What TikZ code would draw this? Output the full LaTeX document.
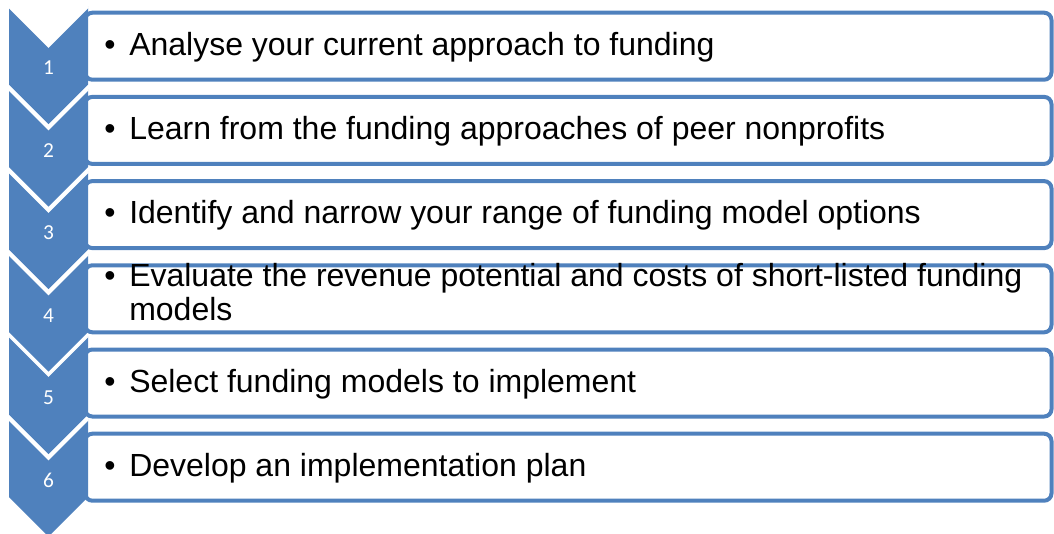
\documentclass[tikz,border=0pt]{standalone}
\usepackage{fontspec}
\setmainfont{Liberation Sans}
\newfontfamily\numfont{Carlito}
\definecolor{accentblue}{HTML}{4F81BD}

\begin{document}
\begin{tikzpicture}[x=0.75pt,y=-0.75pt,
  chevron/.style={fill=accentblue},
  chevronedge/.style={draw=white,line join=miter},
  stepbox/.style={draw=accentblue,fill=white,line width=3pt,rounded corners=5.5pt,
    rectangle,inner sep=0pt,minimum width=724.875pt,minimum height=50.25pt},
  stepnum/.style={text=white,font=\numfont\fontsize{16}{19}\selectfont,anchor=base,inner sep=0pt},
  steptext/.style={font=\fontsize{24}{25}\selectfont,anchor=base west,inner sep=0pt}]
\useasboundingbox (0,0) rectangle (1054,533);

% text boxes, evenly spaced (left edge tucked under the chevrons)
\foreach \k in {1,...,6}{
  \pgfmathsetmacro\cy{46.2+84.2*(\k-1)}
  \node[stepbox] (box\k) at (568.25,\cy) {};
}

% chevrons with a white edge along the notch
\foreach \k/\w in {1/2,2/2,3/2,4/2,5/0.8,6/2}{
  \pgfmathsetmacro\t{6.5+82.5*(\k-1)}
  \fill[chevron] (9,\t) -- (48.5,\t+39.5) -- (88,\t) -- (88,\t+78)
    -- (48.5,\t+117.5) -- (9,\t+78) -- cycle;
  \draw[chevronedge,line width=\w pt] (9,\t) -- (48.5,\t+39.5) -- (88,\t);
  \node[stepnum] (num\k) at (48.5,\t+68) {\k};
}

% step texts
\node[steptext] (step1) at (104,55.2) {\begin{tabular}[t]{@{}l@{}l@{}}\makebox[18.75pt][l]{•}&Analyse your current approach to funding\end{tabular}};
\node[steptext] (step2) at (104,139.4) {\begin{tabular}[t]{@{}l@{}l@{}}\makebox[18.75pt][l]{•}&Learn from the funding approaches of peer nonprofits\end{tabular}};
\node[steptext] (step3) at (104,223.6) {\begin{tabular}[t]{@{}l@{}l@{}}\makebox[18.75pt][l]{•}&Identify and narrow your range of funding model options\end{tabular}};
\node[steptext] (step4) at (104,286.7) {\begin{tabular}[t]{@{}l@{}l@{}}\makebox[18.75pt][l]{•}&Evaluate the revenue potential and costs of short-listed funding\\&models\end{tabular}};
\node[steptext] (step5) at (104,392) {\begin{tabular}[t]{@{}l@{}l@{}}\makebox[18.75pt][l]{•}&Select funding models to implement\end{tabular}};
\node[steptext] (step6) at (104,476.2) {\begin{tabular}[t]{@{}l@{}l@{}}\makebox[18.75pt][l]{•}&Develop an implementation plan\end{tabular}};
\end{tikzpicture}
\end{document}
